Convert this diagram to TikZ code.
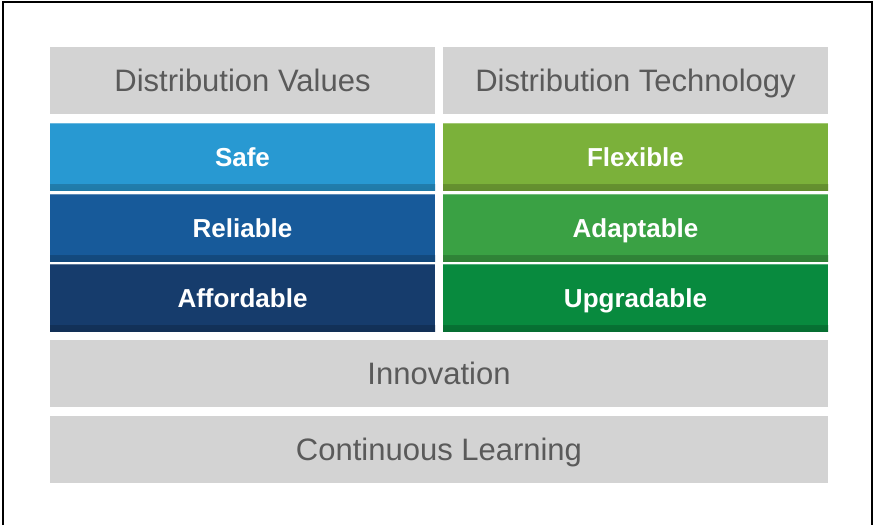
\documentclass[tikz,border=0pt]{standalone}
\usepackage{fontspec}
\setmainfont{Liberation Sans}
\definecolor{grayfill}{HTML}{D3D3D3}
\definecolor{graytext}{HTML}{5A5A5A}
\definecolor{csafe}{HTML}{2899D2}
\definecolor{creliable}{HTML}{175A9A}
\definecolor{cafford}{HTML}{163C6C}
\definecolor{cflex}{HTML}{7BB13A}
\definecolor{cadapt}{HTML}{3AA144}
\definecolor{cupgrade}{HTML}{088A3E}
\begin{document}
\begin{tikzpicture}[x=1pt,y=-1pt,
  graybox/.style={fill=grayfill, inner sep=0pt, text=graytext,
    font=\fontsize{31}{37}\selectfont, text height=22pt, text depth=0pt},
  colbox/.style={fill=#1, inner sep=0pt, text=white,
    minimum width=385pt, minimum height=67pt,
    font=\fontsize{26}{31}\bfseries\selectfont,
    text height=19pt, text depth=0pt,
    path picture={
      \shade[top color=#1, bottom color=#1!80!black]
        ([yshift=6pt]path picture bounding box.south west) rectangle
        (path picture bounding box.south east);
      \fill[#1!70!white] (path picture bounding box.north west) rectangle
        ([yshift=-1.2pt]path picture bounding box.north east);
    }},
  halfgray/.style={graybox, minimum width=385pt, minimum height=67pt},
  fullgray/.style={graybox, minimum width=778pt, minimum height=67pt}]
\useasboundingbox (0,0) rectangle (873,525);
\fill[white] (0,0) rectangle (873,525);
\draw[line width=2pt, black] (3,525) -- (3,1.5) -- (871.5,1.5) -- (871.5,525);
\node[halfgray] (hv) at (242.5,80.5) {Distribution Values};
\node[halfgray] (ht) at (635.5,80.5) {Distribution Technology};
\node[colbox=csafe] (safe) at (242.5,156.5) {Safe};
\node[colbox=creliable] (reliable) at (242.5,227.5) {Reliable};
\node[colbox=cafford] (afford) at (242.5,297.5) {Affordable};
\node[colbox=cflex] (flex) at (635.5,156.5) {Flexible};
\node[colbox=cadapt] (adapt) at (635.5,227.5) {Adaptable};
\node[colbox=cupgrade] (upgrade) at (635.5,297.5) {Upgradable};
\node[fullgray] (innov) at (439,373.5) {Innovation};
\node[fullgray] (learn) at (439,449.5) {Continuous Learning};
\end{tikzpicture}
\end{document}
